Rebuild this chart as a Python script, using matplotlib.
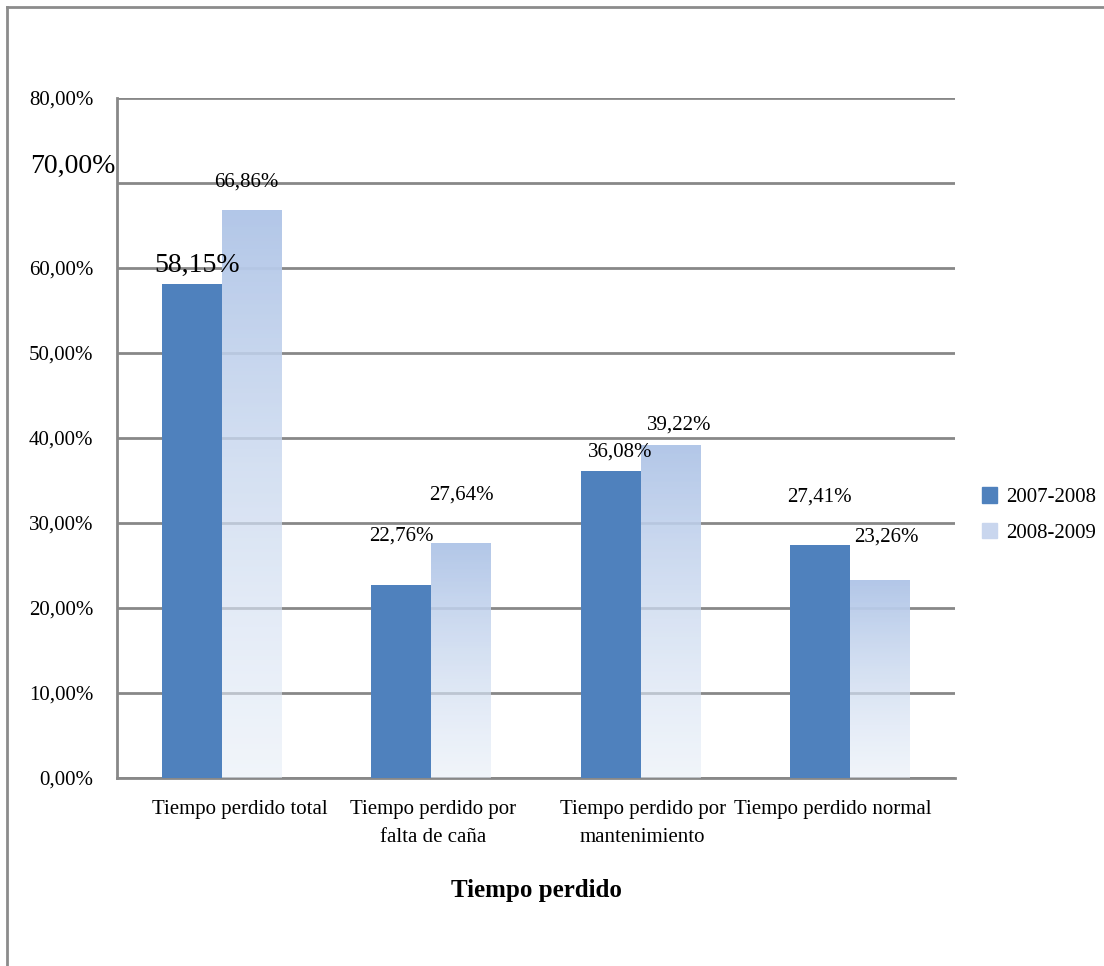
import numpy as np
import matplotlib.pyplot as plt
import matplotlib.transforms as mtransforms
from matplotlib.patches import Patch
from matplotlib.lines import Line2D

plt.rcParams['font.family'] = ['Liberation Serif', 'DejaVu Serif']

# datos
categorias = ["Tiempo perdido total", "Tiempo perdido por\nfalta de caña",
              "Tiempo perdido por\nmantenimiento", "Tiempo perdido normal"]
serie_2007 = [58.15, 22.76, 36.08, 27.41]
serie_2008 = [66.86, 27.64, 39.22, 23.26]
etiquetas_2007 = ["58,15%", "22,76%", "36,08%", "27,41%"]
etiquetas_2008 = ["66,86%", "27,64%", "39,22%", "23,26%"]
ticks_y = [0, 10, 20, 30, 40, 50, 60, 70, 80]
ticks_y_txt = ["0,00%", "10,00%", "20,00%", "30,00%", "40,00%",
               "50,00%", "60,00%", "", "80,00%"]
etiqueta_70 = "70,00%"

# desplazamiento (dx, dy en px) de cada etiqueta de valor
desp_2007 = [(5, 18), (0, 48), (9, 19), (-1, 48)]
desp_2008 = [(-5, 28), (0, 48), (8, 20), (6, 43)]
tam_2007 = [20, 15, 15, 15]
# desplazamiento horizontal (px) de las etiquetas de categoría
desp_cat = [18, 2, 2, -18]

W, H = 1104, 966
fig = plt.figure(figsize=(W / 100, H / 100), dpi=100)
ax = fig.add_axes([117 / W, 1 - 778 / H, (955 - 117) / W, (778 - 98) / H])

x = np.arange(len(categorias))
ancho = 0.286

oscuro = "#4f81bd"
ax.bar(x - ancho / 2, serie_2007, ancho, color=oscuro, zorder=3)

# barras con degradado para 2008-2009
top = np.array([0.70, 0.78, 0.91])
bot = np.array([0.90, 0.93, 0.97])
n = 256
t = np.linspace(0, 1, n)[:, None]  # 0 abajo, 1 arriba
rgb = bot + (top - bot) * t
alpha = 0.55 + 0.45 * t
grad = np.concatenate([rgb, alpha], axis=1)[:, None, :]
barras = ax.bar(x + ancho / 2, serie_2008, ancho, color="none", zorder=3)
for b in barras:
    x0, y0 = b.get_x(), b.get_y()
    im = ax.imshow(grad, origin="lower", aspect="auto", zorder=3,
                   extent=[x0, x0 + b.get_width(), y0, y0 + b.get_height()])
    im.set_clip_path(b)

ax.set_xlim(-0.5, len(categorias) - 0.5)
ax.set_ylim(0, 80)
ax.set_yticks(ticks_y)
ax.set_yticklabels(ticks_y_txt, fontsize=15)
ax.tick_params(axis="y", length=0, pad=17)
# la etiqueta del 70 % va más grande y algo desplazada
fig.text(30 / W, 1 - 166 / H, etiqueta_70, ha="left", va="center", fontsize=20)

ax.set_xticks(x)
ax.set_xticklabels(categorias, fontsize=15, linespacing=1.65)
ax.tick_params(axis="x", length=0, pad=16)
for lbl, d in zip(ax.get_xticklabels(), desp_cat):
    lbl.set_transform(lbl.get_transform() + mtransforms.ScaledTranslation(
        d / 100, 0, fig.dpi_scale_trans))

ax.grid(axis="y", color="#888888", linewidth=2, zorder=1)
ax.set_axisbelow(True)
for s in ["top", "right"]:
    ax.spines[s].set_visible(False)
for s in ["left", "bottom"]:
    ax.spines[s].set_color("#888888")
    ax.spines[s].set_linewidth(2)

# etiquetas de valor
for i in range(len(categorias)):
    dx, dy = desp_2007[i]
    ax.annotate(etiquetas_2007[i], (x[i] - ancho / 2, serie_2007[i]),
                xytext=(dx * 0.72, dy * 0.72), textcoords="offset points",
                ha="center", va="center", fontsize=tam_2007[i], zorder=5)
    dx, dy = desp_2008[i]
    ax.annotate(etiquetas_2008[i], (x[i] + ancho / 2, serie_2008[i]),
                xytext=(dx * 0.72, dy * 0.72), textcoords="offset points",
                ha="center", va="center", fontsize=15, zorder=5)

fig.text(536 / W, 1 - 891 / H, "Tiempo perdido", ha="center", va="center",
         fontsize=18, fontweight="bold")

handles = [Patch(color=oscuro), Patch(color="#c9d6ee")]
fig.legend(handles, ["2007-2008", "2008-2009"], loc="center left",
           bbox_to_anchor=(963 / W, 1 - 515 / H), frameon=False, fontsize=15,
           handlelength=0.75, handleheight=0.75, handletextpad=0.4,
           labelspacing=0.75)

# marco de la figura (arriba e izquierda)
fig.add_artist(Line2D([7 / W, 7 / W], [0, 1 - 7 / H], transform=fig.transFigure,
                      color="#8c8c8c", linewidth=2))
fig.add_artist(Line2D([7 / W, 1], [1 - 7 / H, 1 - 7 / H], transform=fig.transFigure,
                      color="#8c8c8c", linewidth=2))

fig.savefig("out.png", dpi=100)
